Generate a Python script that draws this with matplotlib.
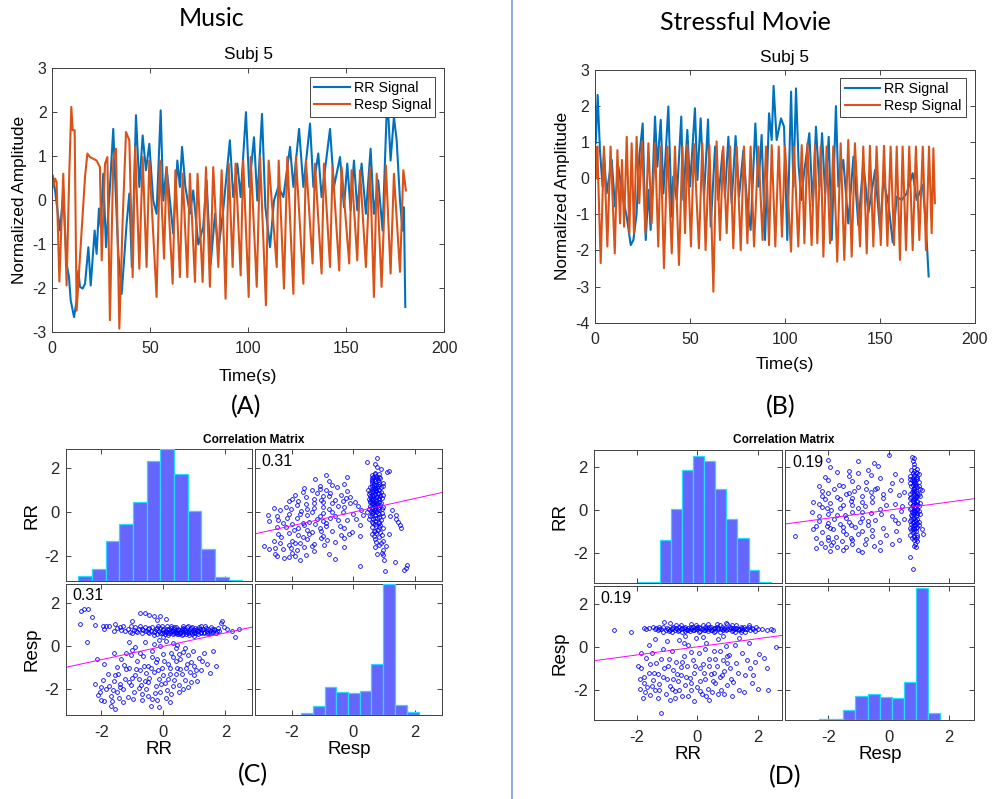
import numpy as np
import matplotlib
matplotlib.use("Agg")
import matplotlib.pyplot as plt
from matplotlib.lines import Line2D

plt.rcParams["font.family"] = ["Liberation Sans", "DejaVu Sans"]
plt.rcParams["axes.unicode_minus"] = False

BLUE = "#0072BD"
ORANGE = "#D95319"

# --- time series (t in s, normalized amplitude) ---
music_rr_t = [0.2, 1.4, 3.9, 5.6, 7.3, 8.5, 9.4, 11.1, 12.4, 13.3, 14.1, 15.5, 16.7, 18.4, 19.6,
              21.6, 22.6, 23.8, 24.7, 26.0, 27.4, 29.4, 31.1, 32.5, 33.7, 35.4, 37.9, 39.3, 40.6,
              42.7, 44.4, 46.1, 47.8, 49.5, 51.5, 53.2, 55.3, 56.6, 58.3, 60.0, 61.7, 63.8, 65.1,
              66.2, 67.9, 70.2, 71.9, 74.5, 77.0, 78.7, 80.8, 83.0, 84.7, 87.2, 90.6, 92.3, 94.4,
              96.1, 98.8, 100.5, 102.9, 104.6, 107.0, 108.7, 111.1, 113.1, 115.3, 117.9, 121.3,
              123.0, 125.9, 128.1, 131.5, 133.2, 135.7, 137.4, 141.7, 143.7, 146.8, 148.8, 150.5,
              152.2, 153.9, 155.6, 157.8, 160.0, 162.4, 164.1, 166.3, 168.5, 170.6, 171.4, 172.6,
              174.3, 175.7, 177.4, 178.7, 179.4, 180.1]
music_rr_v = [0.55, 0.21, -0.70, 0.14, -1.45, -1.76, -2.29, -2.67, -2.29, -1.61, -1.98, -2.02, -1.91,
              -1.08, -1.95, -0.70, -1.23, -0.20, -0.62, 0.59, -1.08, 0.29, 1.61, -0.02, -1.23, -2.14,
              -0.55, 0.14, -1.53, 1.92, 0.29, 1.46, 0.67, 1.27, -0.02, -0.32, 2.03, -0.02, 0.74,
              -0.02, -0.77, 0.89, 0.29, 1.20, 0.29, -0.32, 0.21, -1.02, -0.62, 0.44, -1.47, -0.32,
              -1.15, -0.24, 1.35, 0.06, 0.82, 0.06, 1.99, 0.29, 1.42, -0.02, 1.95, -0.17, -1.08,
              -0.02, 0.29, 0.06, 1.20, 0.29, 1.61, 0.29, 1.73, 0.29, 1.05, 0.06, 1.61, 0.29, 0.97,
              -0.17, 0.82, -0.24, 0.89, -0.24, 0.82, -0.32, 1.16, -0.32, 0.44, -0.70, 1.99, 1.95,
              0.89, 1.88, 1.35, -0.02, -0.70, -0.17, -2.44]

music_resp_t = [0.5, 1.4, 2.2, 3.6, 5.6, 7.3, 8.7, 9.7, 10.4, 11.4, 12.4, 16.7, 17.9, 19.2, 22.6,
                24.3, 25.2, 26.9, 28.1, 29.4, 31.1, 32.5, 34.2, 35.9, 37.6, 39.3, 41.0, 42.3, 44.4,
                46.1, 48.1, 49.5, 53.2, 54.9, 57.0, 58.3, 61.4, 62.8, 65.1, 66.5, 68.9, 70.2, 72.8,
                74.1, 76.7, 78.4, 80.4, 82.1, 84.7, 86.4, 88.4, 90.0, 92.0, 93.5, 96.1, 97.4, 100.2,
                101.2, 104.3, 106.0, 109.0, 110.4, 114.5, 115.5, 118.2, 119.9, 123.0, 124.3, 128.1,
                129.4, 132.8, 134.0, 137.4, 138.6, 141.7, 143.0, 146.4, 147.6, 151.5, 152.7, 155.6,
                157.0, 160.0, 162.1, 164.1, 165.5, 168.0, 170.2, 172.6, 174.3, 177.4, 179.1, 180.4]
music_resp_v = [0.29, 0.48, 0.40, -1.86, 0.59, -1.95, 0.67, 2.11, 1.58, 1.58, -2.52, 0.52, 1.05,
                0.97, 0.89, 0.74, -1.38, 0.82, 0.97, -2.74, 0.89, 1.16, -2.93, -0.47, 1.54, 1.35,
                -1.76, 1.20, -1.57, 0.97, -1.53, 0.89, -2.21, 0.89, -1.34, 0.74, -1.91, 0.67, -1.76,
                0.59, -1.76, 0.59, -1.87, 0.59, -1.87, 0.74, -1.98, 0.74, -1.53, 0.67, -2.25, 0.82,
                -1.53, 0.82, -1.72, 0.89, -2.21, 0.97, -1.98, 0.97, -2.40, 0.89, -1.53, 0.89, -2.02,
                0.97, -2.14, 0.97, -1.91, 0.89, -1.45, 0.82, -1.68, 0.82, -1.53, 0.74, -1.61, 0.74,
                -1.45, 0.67, -1.38, 0.67, -1.53, 0.74, -2.21, 0.59, -1.98, 0.78, -1.68, 0.59, -1.64,
                0.67, 0.21]

movie_rr_t = [0.4, 1.4, 2.6, 4.0, 4.7, 6.1, 8.8, 10.5, 12.3, 14.9, 16.7, 18.8, 20.2, 21.9, 23.3,
              25.1, 26.7, 28.1, 29.3, 31.6, 32.8, 34.6, 36.0, 38.6, 40.4, 41.2, 43.0, 45.4, 46.5,
              48.6, 50.0, 52.6, 53.9, 55.6, 57.4, 59.5, 60.9, 63.2, 64.9, 67.2, 68.4, 70.2, 71.9,
              74.0, 75.8, 78.1, 79.8, 81.9, 84.4, 86.0, 87.7, 89.5, 91.6, 93.0, 94.0, 95.6, 97.9,
              99.5, 101.2, 103.2, 104.4, 105.8, 107.2, 108.6, 110.0, 112.8, 114.6, 116.3, 118.1,
              119.5, 121.1, 123.0, 124.6, 126.8, 128.1, 130.7, 133.3, 136.0, 138.6, 141.2, 143.9,
              147.4, 150.0, 151.8, 154.4, 156.7, 158.8, 161.4, 164.0, 167.2, 169.3, 172.5, 174.2,
              175.6]
movie_rr_v = [0.97, 2.31, 0.78, -0.23, 0.69, -0.42, 0.51, -0.78, 0.32, -0.60, -1.06, -1.85, -1.71,
              -0.97, 0.60, 1.52, -1.71, -0.32, -1.43, 1.71, 0.32, 1.62, -0.42, 1.99, -1.06, 0.05,
              -0.60, 1.71, -0.60, 1.34, -0.23, 1.94, -0.05, 1.66, -0.51, 1.63, -1.34, 0.88, -0.60,
              0.78, -0.51, 1.15, -0.69, 1.17, -0.51, 0.78, -0.51, -1.43, 1.52, -0.23, 1.20, -1.71,
              1.80, 1.06, 2.56, 1.06, 1.66, 1.43, -1.71, 2.40, -0.23, 2.49, 0.32, -0.60, 0.14, 1.25,
              -0.78, 1.43, -0.23, 1.25, -0.42, 1.15, -1.71, 2.00, -0.23, 0.51, -1.25, 0.60, -1.30,
              0.42, -0.95, 0.23, -1.42, -0.05, -0.69, -1.78, -0.51, -0.60, -0.42, 0.14, -0.60,
              -0.18, -1.34, -2.72]

movie_resp_t = [0.9, 1.2, 3.0, 4.7, 6.5, 8.2, 10.4, 11.8, 13.2, 14.2, 15.3, 16.7, 18.1, 19.3, 20.5,
                21.9, 23.3, 24.7, 26.5, 28.1, 29.8, 31.6, 33.3, 34.6, 36.3, 38.1, 40.4, 42.1, 44.2,
                46.0, 47.4, 48.6, 50.5, 52.1, 54.7, 56.5, 58.2, 60.2, 62.3, 64.0, 65.8, 67.5, 69.3,
                71.1, 72.8, 74.6, 76.7, 78.4, 80.2, 81.9, 83.7, 86.0, 88.2, 90.0, 91.6, 93.0, 94.9,
                96.7, 98.4, 100.0, 103.2, 104.7, 107.0, 108.8, 110.2, 111.8, 114.0, 115.8, 117.0,
                118.8, 120.2, 121.9, 123.7, 125.4, 127.5, 129.3, 131.2, 133.3, 135.1, 136.8, 139.5,
                141.2, 143.0, 144.7, 146.5, 148.2, 150.4, 152.1, 153.9, 155.6, 157.4, 158.8, 160.5,
                161.9, 163.7, 165.4, 167.2, 168.9, 170.7, 172.5, 174.2, 175.8, 177.2, 178.1, 178.9]
movie_resp_v = [0.0, 0.88, -2.35, 0.88, -1.89, 0.88, -2.08, 0.78, -1.25, 0.51, -1.34, 1.15, -1.52,
                0.97, -1.52, 1.15, -0.69, 1.02, -1.52, 0.97, -1.25, 0.97, -1.89, 0.88, -2.49, 0.88,
                -2.08, 0.88, -2.40, 0.88, -1.52, 0.92, -1.89, 0.95, -1.94, 0.97, -1.99, 0.92, -3.14,
                1.02, -1.71, 0.88, -1.52, 0.88, -1.94, 0.88, -1.99, 0.88, -1.80, 0.88, -1.89, 0.88,
                -1.71, 0.88, -1.85, 0.92, -1.89, 0.88, -1.62, 0.88, -2.03, 0.88, -1.89, 0.92, -1.80,
                0.97, -1.85, 0.92, -1.80, 0.88, -2.17, 0.88, -1.80, 0.88, -2.31, 0.97, -2.26, 1.06,
                -2.17, 0.97, -1.89, 0.88, -2.08, 0.90, -1.89, 0.88, -1.85, 0.90, -1.87, 0.88, -1.85,
                0.88, -2.26, 0.88, -1.99, 0.88, -1.99, 0.88, -1.71, 0.88, -1.99, 0.88, -1.52, 0.83,
                -0.69]

# --- (RR, Resp) sample pairs for the correlation matrices ---
music_pairs = [
    (-1.95, 0.95), (-1.85, 0.93), (-1.75, 0.95), (-1.9, 0.78), (-1.6, 0.72), (-1.5, 0.85),
    (-1.4, 0.9), (-1.3, 0.95), (-1.25, 0.7), (-1.15, 0.82), (-1.05, 0.92), (-1.0, 0.6),
    (-0.95, 0.75), (-0.9, 0.88), (-0.85, 0.68), (-0.8, 0.8), (-0.75, 0.95), (-0.7, 0.62),
    (-0.65, 0.75), (-0.6, 0.88), (-0.55, 0.7), (-0.5, 0.82), (-0.45, 0.6), (-0.4, 0.72),
    (-0.35, 0.9), (-0.3, 0.65), (-0.25, 0.78), (-0.2, 0.55), (-0.15, 0.7), (-0.1, 0.85),
    (-0.05, 0.62), (0.0, 0.75), (0.05, 0.58), (0.1, 0.68), (0.12, 0.82), (0.15, 0.5),
    (0.2, 0.72), (0.22, 0.62), (0.25, 0.85), (0.3, 0.55), (0.32, 0.7), (0.35, 0.78),
    (0.4, 0.62), (0.42, 0.9), (0.45, 0.68), (0.5, 0.55), (0.52, 0.75), (0.55, 0.62),
    (0.6, 0.82), (0.62, 0.7), (0.65, 0.58), (0.7, 0.75), (0.72, 0.65), (0.75, 0.88),
    (0.8, 0.6), (0.82, 0.72), (0.85, 0.8), (0.9, 0.65), (0.92, 0.55), (0.95, 0.75),
    (1.0, 0.68), (1.02, 0.85), (1.05, 0.6), (1.1, 0.78), (1.12, 0.7), (1.15, 0.9),
    (1.2, 0.62), (1.25, 0.75), (1.28, 0.82), (1.3, 0.68), (1.35, 0.95), (1.4, 0.72),
    (1.42, 0.6), (1.45, 0.8), (1.5, 0.7), (1.55, 0.88), (1.6, 0.65), (1.65, 0.75),
    (1.7, 0.62), (1.75, 0.85), (1.8, 0.72), (1.85, 1.1), (1.9, 1.15), (1.95, 0.9),
    (2.05, 0.78), (2.2, 0.72), (2.3, 0.45), (2.45, 0.78), (-0.3, 0.5), (0.0, 0.45),
    (0.6, 0.5), (1.0, 0.48), (0.25, 0.95), (0.8, 0.95), (-0.05, 0.92), (0.45, 0.55),
    (1.55, 0.6), (0.35, 0.62), (0.65, 0.85), (0.15, 0.6), (-0.45, 0.85), (1.2, 0.95),
    (-0.28, 0.72), (-0.22, 0.85), (-0.12, 0.6), (-0.02, 0.8), (0.08, 0.72), (0.18, 0.8),
    (0.28, 0.7), (0.38, 0.68), (0.48, 0.82), (0.58, 0.65), (0.68, 0.78), (0.78, 0.68),
    (0.88, 0.85), (0.98, 0.6), (1.08, 0.72), (1.18, 0.8), (1.32, 0.6), (1.48, 0.62),
    (1.62, 0.82), (1.72, 0.7), (0.02, 0.65), (0.33, 0.88), (0.63, 0.92), (0.93, 0.9),
    (1.38, 0.85), (-0.48, 0.65), (-0.68, 0.82), (-0.88, 0.72), (-1.08, 0.68), (-1.35, 0.75),
    (0.13, 0.92), (0.53, 0.6), (0.83, 0.52), (1.13, 0.55), (1.58, 0.78), (-0.18, 0.95),
    (0.43, 0.75), (0.73, 0.55), (1.03, 0.75), (1.23, 0.68),
    (-2.65, 1.65), (-2.55, 1.72), (-2.42, 1.75), (-2.3, 1.35), (-2.7, 1.02), (-2.2, 1.0),
    (-0.75, 1.55), (-0.6, 1.52), (-0.45, 1.45), (-0.3, 1.38), (-0.12, 1.4), (0.1, 1.25),
    (-1.0, 1.15), (-1.55, 1.05), (-0.2, 1.2),
    (-2.45, 0.22), (-2.15, -0.6), (-2.0, -1.9), (-2.05, -2.1), (-2.1, -2.25), (-1.9, -2.55),
    (-1.85, -2.0), (-1.75, -1.85), (-1.7, -2.3), (-1.65, -2.55), (-1.6, -1.6), (-1.55, -2.9),
    (-1.5, -2.1), (-1.5, -0.95), (-1.45, -1.3), (-1.4, -1.9), (-1.35, -0.6), (-1.3, -2.0),
    (-1.25, -1.5), (-1.2, -0.3), (-1.15, -2.35), (-1.1, -1.0), (-1.05, -1.8), (-1.0, -0.15),
    (-0.95, -2.1), (-0.9, -1.35), (-0.85, -0.7), (-0.8, -1.95), (-0.75, -1.1), (-0.7, -2.2),
    (-0.65, -0.45), (-0.6, -1.6), (-0.55, -2.0), (-0.5, -0.9), (-0.45, -1.45), (-0.4, -2.75),
    (-0.35, -0.2), (-0.3, -1.2), (-0.25, -1.85), (-0.2, -0.6), (-0.15, -1.5), (-0.1, -2.1),
    (-0.05, -1.0), (0.0, -0.35), (0.05, -1.7), (0.1, -2.4), (0.15, -0.8), (0.2, -1.3),
    (0.25, -2.2), (0.3, -0.5), (0.35, -1.55), (0.4, -0.1), (0.45, -1.0), (0.5, -1.8),
    (0.55, -0.6), (0.6, -1.3), (0.65, -0.25), (0.7, -1.55), (0.75, -0.8), (0.8, -0.4),
    (0.85, -1.2), (0.9, -1.65), (0.95, -0.2), (1.0, -0.9), (1.1, -1.6), (1.15, -0.55),
    (1.2, -1.1), (1.3, -0.3), (1.4, -0.8), (1.5, -1.25), (1.6, -0.2), (1.7, -0.9),
    (-0.9, -0.05), (-0.6, 0.2), (-0.3, 0.1), (0.1, 0.25), (0.3, 0.15), (-1.1, 0.2),
    (-1.6, -0.3), (-1.9, -0.8), (-0.7, -2.5), (-0.2, -2.5), (0.2, -2.6), (-1.3, -2.6),
    (-0.5, -2.3), (0.5, -2.1), (0.8, -1.9), (-0.8, -1.5), (-0.4, -1.0), (0.0, -1.35),
    (0.25, -0.3), (-1.0, -1.45), (-1.2, -1.05), (-0.55, -1.25), (0.4, -0.7), (-0.25, -0.75),
    (0.55, -1.05), (1.0, -1.35), (-0.1, 0.0), (-1.4, -1.75), (-0.15, -2.8), (-1.7, -2.75),
    (-2.2, -1.75),
    (-1.8, -1.3), (-1.62, -2.05), (-1.42, -2.4), (-1.28, -0.85), (-1.12, -1.65), (-0.98, -2.45),
    (-0.88, -1.05), (-0.72, -1.8), (-0.62, -0.9), (-0.48, -1.65), (-0.38, -0.5), (-0.28, -2.15),
    (-0.18, -1.1), (-0.08, -1.75), (0.02, -0.7), (0.12, -2.05), (0.22, -1.0), (0.32, -1.85),
    (0.42, -1.3), (0.52, -0.35), (0.62, -2.0), (0.72, -1.0), (0.88, -0.75), (1.05, -1.1),
    (1.25, -0.7), (-1.55, -1.35), (-0.75, -0.3), (-0.35, -2.45), (0.15, -1.5), (0.7, -0.1),
    (-2.0, -2.5), (-1.95, -1.55), (-1.05, -0.4), (-0.15, 0.3), (0.45, 0.05),
]
movie_pairs = [
    (-2.75, 0.8), (-2.2, 0.7), (-1.75, 0.9), (-1.7, 0.82), (-1.6, 0.88), (-1.45, 0.95),
    (-1.4, 0.85), (-1.3, 0.78), (-1.25, 0.92), (-1.2, 0.85), (-1.1, 1.15), (-1.05, 0.8),
    (-1.0, 0.9), (-0.95, 0.75), (-0.9, 1.1), (-0.85, 0.85), (-0.8, 0.95), (-0.75, 0.8),
    (-0.7, 0.88), (-0.65, 0.75), (-0.6, 0.92), (-0.55, 0.82), (-0.5, 0.7), (-0.45, 0.88),
    (-0.4, 0.95), (-0.35, 0.8), (-0.3, 0.9), (-0.25, 0.75), (-0.2, 0.85), (-0.15, 0.95),
    (-0.1, 0.78), (-0.05, 0.88), (0.0, 0.82), (0.05, 0.92), (0.1, 0.75), (0.15, 0.85),
    (0.2, 1.0), (0.25, 0.8), (0.3, 0.9), (0.35, 0.72), (0.4, 0.85), (0.45, 0.95),
    (0.5, 0.8), (0.55, 0.88), (0.6, 0.75), (0.65, 0.92), (0.7, 0.82), (0.75, 1.0),
    (0.8, 0.85), (0.85, 0.78), (0.9, 0.9), (0.95, 0.8), (1.0, 1.05), (1.05, 0.85),
    (1.1, 0.95), (1.15, 0.75), (1.2, 0.88), (1.25, 0.82), (1.3, 1.0), (1.35, 0.85),
    (1.4, 0.78), (1.45, 0.92), (1.5, 0.8), (1.55, 0.95), (1.6, 0.7), (1.65, 0.85),
    (1.75, 0.8), (1.8, 0.9), (1.9, 0.75), (2.0, 0.82), (2.3, 0.8), (2.45, 0.85),
    (2.5, 0.78), (-0.55, 1.0), (0.35, 1.05), (0.95, 1.1), (-0.2, 1.05), (0.55, 0.7),
    (1.15, 1.0), (-0.85, 0.7), (0.05, 0.7), (1.7, 1.0), (-1.15, 0.7), (0.75, 0.7),
    (-0.4, 0.75), (1.45, 0.7), (-0.05, 1.0), (0.25, 0.95), (1.25, 0.7), (0.65, 1.05),
    (-0.7, 1.0),
    (-1.35, 0.9), (-1.15, 0.95), (-0.98, 0.85), (-0.82, 0.9), (-0.68, 0.82), (-0.52, 0.9),
    (-0.38, 0.85), (-0.22, 0.92), (-0.08, 0.85), (0.08, 0.88), (0.22, 0.8), (0.38, 0.92),
    (0.52, 0.85), (0.68, 0.88), (0.82, 0.92), (0.98, 0.85), (1.12, 0.9), (1.28, 0.88),
    (1.42, 0.85), (1.58, 0.82), (1.72, 0.92), (1.85, 0.82), (-0.6, 0.8), (-0.3, 0.78),
    (0.0, 0.95), (0.3, 0.82), (0.6, 0.9), (0.9, 0.82), (1.2, 0.8), (1.5, 0.9),
    (-0.9, 0.8), (-1.25, 0.82), (2.15, 0.82), (1.95, 0.95), (0.45, 0.8), (-0.15, 0.8),
    (-1.95, -0.9), (-1.9, -1.95), (-1.85, -1.0), (-1.8, -2.4), (-1.75, -1.4), (-1.7, -0.5),
    (-1.65, -1.9), (-1.6, -1.2), (-1.55, -2.25), (-1.5, -0.3), (-1.45, -1.55), (-1.4, -2.0),
    (-1.35, -0.75), (-1.3, -1.25), (-1.25, -1.75), (-1.2, -3.1), (-1.15, -0.1), (-1.1, -1.0),
    (-1.05, -2.2), (-1.0, -1.5), (-0.95, -0.55), (-0.9, -1.85), (-0.85, -0.2), (-0.8, -1.1),
    (-0.75, -2.05), (-0.7, -0.7), (-0.65, -1.6), (-0.6, 0.3), (-0.55, -1.3), (-0.5, -2.3),
    (-0.45, -0.45), (-0.4, -1.8), (-0.35, -0.9), (-0.3, 0.1), (-0.25, -1.45), (-0.2, -2.0),
    (-0.15, -0.6), (-0.1, -1.2), (-0.05, 0.4), (0.0, -1.9), (0.05, -0.3), (0.1, -1.0),
    (0.15, -2.2), (0.2, -0.8), (0.25, -1.5), (0.3, 0.2), (0.35, -1.95), (0.4, -0.55),
    (0.45, -1.25), (0.5, -2.1), (0.55, -0.2), (0.6, -1.7), (0.65, -0.9), (0.7, 0.35),
    (0.75, -1.4), (0.8, -2.0), (0.85, -0.6), (0.9, -1.15), (0.95, 0.05), (1.0, -1.8),
    (1.05, -0.4), (1.1, -1.0), (1.2, -1.65), (1.25, 0.1), (1.3, -0.75), (1.4, -2.0),
    (1.5, -0.3), (1.6, -1.3), (1.65, -0.6), (1.7, 0.2), (1.8, -1.7), (1.85, -1.3),
    (1.9, -0.7), (2.0, -1.95), (2.05, -0.35), (2.3, -1.0), (2.35, -2.0), (2.6, 0.0),
    (2.2, -0.5), (-1.6, 0.1), (-1.0, 0.25), (-0.4, 0.5), (0.2, 0.45), (0.85, 0.5),
    (1.4, 0.4), (-1.3, -2.4), (-0.9, -2.5), (-0.3, -2.3), (0.4, -2.5), (1.15, -2.3),
    (-0.75, -2.4), (0.1, -1.6), (-0.55, -0.95), (0.6, -0.55), (-1.2, -0.55), (1.0, -0.75),
    (0.25, -0.1), (-0.2, -0.25), (-1.4, 0.35), (0.55, -1.2), (-0.8, -1.5), (0.9, -2.2),
    (-1.75, -1.7), (-0.1, -2.55),
    (-1.88, -1.5), (-1.72, -2.1), (-1.58, -0.8), (-1.42, -1.2), (-1.28, -2.0), (-1.12, -1.4),
    (-0.98, -0.9), (-0.82, -1.95), (-0.68, -1.25), (-0.52, -0.7), (-0.38, -1.4), (-0.22, -1.7),
    (-0.08, -0.9), (0.08, -2.05), (0.22, -1.2), (0.38, -0.9), (0.52, -1.6), (0.68, -2.2),
    (0.82, -1.3), (0.98, -0.45), (1.12, -1.5), (1.35, -1.2), (1.55, -2.1), (1.75, -1.0),
    (-1.5, -1.85), (-0.6, -2.0), (0.3, -2.3), (-1.85, -0.3), (-0.45, 0.2), (0.75, -0.2),
]
music_r = 0.31
movie_r = 0.19

# histogram bin edges and counts
music_rr_edges = [-2.74, -2.30, -1.86, -1.42, -0.98, -0.54, -0.10, 0.34, 0.79, 1.23, 1.67, 2.11, 2.55]
music_rr_counts = [4, 9, 30, 43, 60, 91, 100, 81, 53, 24, 3, 1]
music_resp_edges = [-1.71, -1.33, -0.94, -0.56, -0.18, 0.21, 0.59, 0.98, 1.36, 1.74, 2.13, 2.51]
music_resp_counts = [3, 16, 46, 38, 36, 39, 83, 215, 17, 5, 1]
movie_rr_edges = [-1.97, -1.60, -1.24, -0.87, -0.50, -0.14, 0.23, 0.60, 0.96, 1.33, 1.70, 2.06, 2.43]
movie_rr_counts = [1, 1, 31, 53, 81, 91, 87, 67, 46, 32, 9, 1]
movie_resp_edges = [-2.3, -1.9, -1.5, -1.1, -0.7, -0.3, 0.1, 0.5, 0.9, 1.3, 1.7]
movie_resp_counts = [1, 1, 17, 42, 46, 41, 39, 68, 235, 12]

W, H = 994, 799
fig = plt.figure(figsize=(W / 100, H / 100), dpi=100)


def box(left, top, right, bottom):
    return [left / W, 1 - bottom / H, (right - left) / W, (bottom - top) / H]


def style(ax, size, xpad=7, ypad=4):
    for s in ax.spines.values():
        s.set_color("#404040")
        s.set_linewidth(0.7)
    ax.tick_params(direction="in", top=True, right=True, length=3.5, width=0.6,
                   labelsize=size, colors="#262626")
    ax.tick_params(axis="x", pad=xpad)
    ax.tick_params(axis="y", pad=ypad)


def signal_panel(rect, rr_t, rr_v, resp_t, resp_v, ylim, leg_anchor, xlabelpad):
    ax = fig.add_axes(box(*rect))
    ax.plot(rr_t, rr_v, color=BLUE, lw=1.5, label="RR Signal")
    ax.plot(resp_t, resp_v, color=ORANGE, lw=1.5, label="Resp Signal")
    ax.set_xlim(0, 200)
    ax.set_ylim(*ylim)
    ax.set_xticks([0, 50, 100, 150, 200])
    ax.set_yticks(range(ylim[0], ylim[1] + 1))
    style(ax, 11.5)
    ax.set_title("Subj 5", fontsize=12.4, pad=6)
    ax.set_xlabel("Time(s)", fontsize=12.5, labelpad=xlabelpad)
    ax.set_ylabel("Normalized Amplitude", fontsize=12.4, labelpad=4)
    leg = ax.legend(loc="upper right", bbox_to_anchor=leg_anchor, borderaxespad=0,
                    fontsize=10.3, handlelength=2.5, handletextpad=0.25, labelspacing=0.2,
                    borderpad=0.3, fancybox=False, framealpha=1)
    leg.get_frame().set_edgecolor("#262626")
    leg.get_frame().set_linewidth(0.6)
    return ax


signal_panel((52.3, 67.7, 444.3, 331.7), music_rr_t, music_rr_v, music_resp_t, music_resp_v,
             (-3, 3), (1 - 9 / 392, 1 - 9.5 / 264), 9)
signal_panel((595, 70, 975, 322.7), movie_rr_t, movie_rr_v, movie_resp_t, movie_resp_v,
             (-4, 3), (1 - 9.3 / 380, 1 - 8 / 252.7), 7)


def hist_on(ax, edges, counts, headroom):
    tw = ax.twinx()
    edges = np.asarray(edges)
    tw.bar(edges[:-1], counts, width=np.diff(edges), align="edge",
           color="#6666FF", edgecolor="#22DDFF", linewidth=0.9)
    tw.set_ylim(0, max(counts) * headroom)
    tw.set_yticks([])
    for s in tw.spines.values():
        s.set_visible(False)


def scatter_on(ax, x, y, r, lims):
    ax.plot(x, y, "o", ms=2.7, mfc="none", mec="#0000FF", mew=0.6)
    xs = np.array(lims)
    ax.plot(xs, r * xs, color="#FF00FF", lw=0.7)
    ax.text(0.035, 0.965, f"{r:.2f}", transform=ax.transAxes, ha="left", va="top", fontsize=11.5)


def corr_matrix(cols, rows, pairs, r, rr_lim, resp_lim, hists, title_x):
    rr = np.array([p[0] for p in pairs])
    resp = np.array([p[1] for p in pairs])
    (l0, r0), (l1, r1) = cols
    (t0, b0), (t1, b1) = rows
    tl = fig.add_axes(box(l0, t0, r0, b0))
    tr = fig.add_axes(box(l1, t0, r1, b0))
    bl = fig.add_axes(box(l0, t1, r0, b1))
    br = fig.add_axes(box(l1, t1, r1, b1))
    tl.set_xlim(*rr_lim); tl.set_ylim(*rr_lim)
    tr.set_xlim(*resp_lim); tr.set_ylim(*rr_lim)
    bl.set_xlim(*rr_lim); bl.set_ylim(*resp_lim)
    br.set_xlim(*resp_lim); br.set_ylim(*resp_lim)
    hist_on(tl, *hists[0])
    hist_on(br, *hists[1])
    scatter_on(tr, resp, rr, r, resp_lim)
    scatter_on(bl, rr, resp, r, rr_lim)
    for ax in (tl, tr, bl, br):
        ax.set_xticks([-2, 0, 2])
        ax.set_yticks([-2, 0, 2])
        style(ax, 12, xpad=7, ypad=4.5)
    for ax in (tl, tr):
        ax.tick_params(labelbottom=False)
    for ax in (tr, br):
        ax.tick_params(labelleft=False)
    tl.set_ylabel("RR", fontsize=13.5, labelpad=3)
    bl.set_ylabel("Resp", fontsize=13.5, labelpad=3)
    bl.set_xlabel("RR", fontsize=13.5, labelpad=1)
    br.set_xlabel("Resp", fontsize=13.5, labelpad=1)
    fig.text(title_x / W, 1 - 440 / H, "Correlation Matrix", ha="center", va="center",
             fontsize=8.6, fontweight="bold")


corr_matrix(((65.7, 252.3), (255.3, 442.3)), ((449.3, 581), (583.7, 715.3)),
            music_pairs, music_r, (-3.15, 2.87), (-3.2, 2.9),
            [(music_rr_edges, music_rr_counts, 1.0), (music_resp_edges, music_resp_counts, 1.0)],
            254)
corr_matrix(((594, 782.3), (785.3, 974.3)), ((450, 583), (586.3, 720)),
            movie_pairs, movie_r, (-3.42, 2.82), (-3.42, 2.83),
            [(movie_rr_edges, movie_rr_counts, 1.045), (movie_resp_edges, movie_resp_counts, 1.015)],
            784)

# headings and panel letters
head = dict(ha="center", va="center", family=["Lato", "DejaVu Sans"], fontsize=18)
fig.text(212 / W, 1 - 19 / H, "Music", **head)
fig.text(745 / W, 1 - 22 / H, "Stressful Movie", **head)
fig.text(246 / W, 1 - 407 / H, "(A)", **head)
fig.text(781 / W, 1 - 407 / H, "(B)", **head)
fig.text(253 / W, 1 - 775 / H, "(C)", **head)
fig.text(785 / W, 1 - 777 / H, "(D)", **head)

fig.add_artist(Line2D([512.3 / W, 512.3 / W], [0, 1], color="#6F93DA", lw=1.1))

fig.savefig("out.png", dpi=100, facecolor="white")
